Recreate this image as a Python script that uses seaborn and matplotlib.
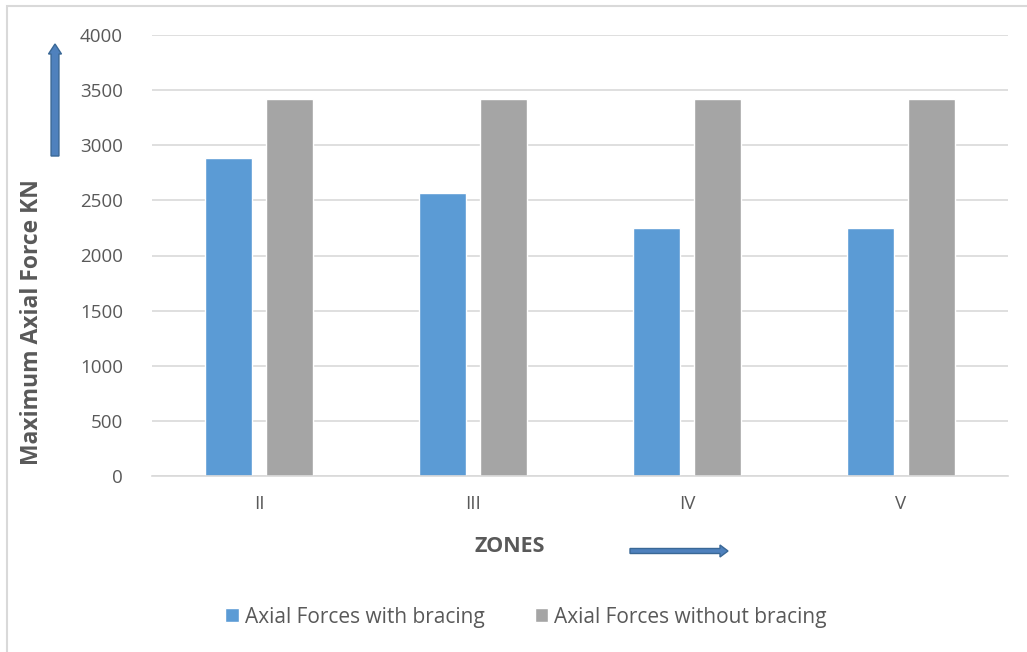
import matplotlib
matplotlib.use("Agg")
import matplotlib.pyplot as plt
import seaborn as sns
import pandas as pd
from matplotlib.patches import FancyArrow, Rectangle

zones = ["II", "III", "IV", "V"]
with_bracing = [2880, 2565, 2245, 2245]
without_bracing = [3420, 3420, 3420, 3420]
series_names = ["Axial Forces with bracing", "Axial Forces without bracing"]
yticks = [0, 500, 1000, 1500, 2000, 2500, 3000, 3500, 4000]

df = pd.DataFrame({
    "Zone": zones * 2,
    "Force": with_bracing + without_bracing,
    "Series": [series_names[0]] * len(zones) + [series_names[1]] * len(zones),
})

sns.set_theme(style="white")
plt.rcParams["font.family"] = ["Open Sans", "DejaVu Sans"]

W, H = 1027, 652
fig = plt.figure(figsize=(W / 100, H / 100), dpi=100)
ax = fig.add_axes([152 / W, 1 - 476 / H, (1008 - 152) / W, (476 - 35) / H])

palette = {series_names[0]: "#5b9bd5", series_names[1]: "#a5a5a5"}
sns.barplot(data=df, x="Zone", y="Force", hue="Series", palette=palette,
            width=0.57, gap=0.23, saturation=1, ax=ax, legend=True)

ax.set_xlim(-0.5, 3.5)
ax.set_ylim(0, 4000)
ax.set_yticks(yticks)
ax.yaxis.grid(True, color="#d9d9d9", linewidth=1.2)
ax.set_axisbelow(True)
for s in ["top", "right", "left"]:
    ax.spines[s].set_visible(False)
ax.spines["bottom"].set_color("#d9d9d9")
ax.spines["bottom"].set_linewidth(1.2)
ax.tick_params(axis="both", length=0, labelsize=13.5, labelcolor="#595959")
ax.tick_params(axis="x", pad=14)
ax.tick_params(axis="y", pad=21)

ax.set_xlabel("")
ax.set_ylabel("")
fig.text(32 / W, 1 - 322 / H, "Maximum Axial Force KN", rotation=90,
         ha="center", va="center", fontsize=16.5, fontweight="bold", color="#595959")
fig.text(510 / W, 1 - 546 / H, "ZONES", ha="center", va="center",
         fontsize=15.5, fontweight="bold", color="#595959")

handles, labels = ax.get_legend_handles_labels()
ax.legend_.remove()
fig.legend(handles, labels, loc="center", bbox_to_anchor=(526 / W, 1 - 617 / H),
           ncol=2, frameon=False, fontsize=15, labelcolor="#595959",
           handlelength=0.65, handleheight=0.65, handletextpad=0.3, columnspacing=2.4)

# direction arrows
arrow_kw = dict(transform=fig.transFigure, facecolor="#4f81bd", edgecolor="#3a6896",
                linewidth=1, length_includes_head=True)
fig.patches.append(FancyArrow(55 / W, 1 - 156 / H, 0, (156 - 44) / H,
                              width=5 / H, head_width=13 / W, head_length=10 / H, **arrow_kw))
fig.patches.append(FancyArrow(630 / W, 1 - 551 / H, (728 - 630) / W, 0,
                              width=5 / H, head_width=12 / H, head_length=8 / W, **arrow_kw))

# outer frame
fig.patches.append(Rectangle((7 / W, -0.01), 1.02, 1 - 6 / H + 0.01,
                             transform=fig.transFigure, fill=False,
                             edgecolor="#d9d9d9", linewidth=1.5))

fig.savefig("out.png", dpi=100)
